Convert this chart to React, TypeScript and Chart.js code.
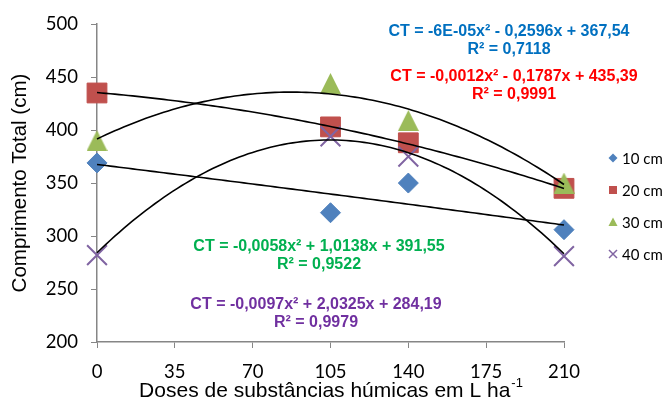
import React, { useEffect, useRef } from 'react';
import { Chart, registerables } from 'chart.js';

Chart.register(...registerables);

// ---- data ----
const doses = [0, 105, 140, 210];
const seriesLabels = ['10 cm', '20 cm', '30 cm', '40 cm'];
const s10 = [369, 322, 350, 306];
const s20 = [435, 403, 388, 345];
const s30 = [390, 444, 409, 350];
const s40 = [282, 394, 375, 281];
const xTickValues = [0, 35, 70, 105, 140, 175, 210];
const yTickValues = [200, 250, 300, 350, 400, 450, 500];
// trendline coefficients (a x^2 + b x + c), as printed on the chart
const coef10 = [-0.00006, -0.2596, 367.54];
const coef20 = [-0.0012, -0.1787, 435.39];
const coef30 = [-0.0058, 1.0138, 391.55];
const coef40 = [-0.0097, 2.0325, 284.19];
const eq10 = ['CT = -6E-05x² - 0,2596x + 367,54', 'R² = 0,7118'];
const eq20 = ['CT = -0,0012x² - 0,1787x + 435,39', 'R² = 0,9991'];
const eq30 = ['CT = -0,0058x² + 1,0138x + 391,55', 'R² = 0,9522'];
const eq40 = ['CT = -0,0097x² + 2,0325x + 284,19', 'R² = 0,9979'];
const yTitle = 'Comprimento Total (cm)';
const xTitle = 'Doses de substâncias húmicas em L ha';
const xTitleSup = '-1';

// ---- styles ----
const markerColors = ['#4F81BD', '#C0504D', '#9BBB59', '#8064A2'];
const markerRadii = [10, 14, 11, 14];
const eqColors = ['#0070C0', '#FF0000', '#00B050', '#7030A0'];
const eqPos = [
  [509, 32],
  [514, 77],
  [319, 247],
  [316, 305],
];
const AXIS = '#868686';

function trend(coef: number[]) {
  const pts: { x: number; y: number }[] = [];
  for (let i = 0; i <= 105; i++) {
    const x = (210 * i) / 105;
    pts.push({ x, y: coef[0] * x * x + coef[1] * x + coef[2] });
  }
  return pts;
}

function triangleImage(color: string, size: number) {
  const c = document.createElement('canvas');
  c.width = size;
  c.height = size;
  const g = c.getContext('2d')!;
  g.fillStyle = color;
  g.beginPath();
  g.moveTo(size / 2, 0);
  g.lineTo(size, size);
  g.lineTo(0, size);
  g.closePath();
  g.fill();
  return c;
}

const overlayPlugin = {
  id: 'overlay',
  afterDraw(chart: any) {
    const ctx = chart.ctx;
    const area = chart.chartArea;
    ctx.save();
    // equations
    const eqs = [eq10, eq20, eq30, eq40];
    ctx.font = 'bold 16px "Liberation Sans", Arial, sans-serif';
    ctx.textAlign = 'center';
    ctx.textBaseline = 'middle';
    eqs.forEach((lines, i) => {
      ctx.fillStyle = eqColors[i];
      lines.forEach((t, j) => ctx.fillText(t, eqPos[i][0], eqPos[i][1] + j * 17.5));
    });
    // y title
    ctx.fillStyle = '#000';
    ctx.font = '20.5px "Liberation Sans", Arial, sans-serif';
    ctx.save();
    ctx.translate(20, (area.top + area.bottom) / 2);
    ctx.rotate(-Math.PI / 2);
    ctx.textAlign = 'center';
    ctx.fillText(yTitle, 0, 0);
    ctx.restore();
    // x title with superscript
    ctx.font = '21px "Liberation Sans", Arial, sans-serif';
    const w1 = ctx.measureText(xTitle).width;
    ctx.font = '13px "Liberation Sans", Arial, sans-serif';
    const w2 = ctx.measureText(xTitleSup).width;
    const cx = (area.left + area.right) / 2;
    const x0 = cx - (w1 + w2) / 2;
    ctx.textAlign = 'left';
    ctx.font = '21px "Liberation Sans", Arial, sans-serif';
    ctx.fillText(xTitle, x0, 391);
    ctx.font = '13px "Liberation Sans", Arial, sans-serif';
    ctx.fillText(xTitleSup, x0 + w1 + 1, 383);
    // legend
    const ly = [158, 190, 222, 254];
    ctx.font = '15px Lato, "Open Sans", sans-serif';
    seriesLabels.forEach((lab, i) => {
      const mx = 613;
      const my = ly[i];
      ctx.fillStyle = markerColors[i];
      ctx.strokeStyle = markerColors[i];
      ctx.lineWidth = 1.5;
      ctx.beginPath();
      if (i === 0) {
        ctx.moveTo(mx - 4.5, my);
        ctx.lineTo(mx, my - 4.5);
        ctx.lineTo(mx + 4.5, my);
        ctx.lineTo(mx, my + 4.5);
        ctx.closePath();
        ctx.fill();
      } else if (i === 1) {
        ctx.rect(mx - 4, my - 4, 8, 8);
        ctx.fill();
      } else if (i === 2) {
        ctx.moveTo(mx, my - 4.5);
        ctx.lineTo(mx + 4.5, my + 4);
        ctx.lineTo(mx - 4.5, my + 4);
        ctx.closePath();
        ctx.fill();
      } else {
        ctx.moveTo(mx - 4, my - 4);
        ctx.lineTo(mx + 4, my + 4);
        ctx.moveTo(mx + 4, my - 4);
        ctx.lineTo(mx - 4, my + 4);
        ctx.stroke();
      }
      ctx.fillStyle = '#000';
      ctx.textAlign = 'left';
      ctx.textBaseline = 'middle';
      ctx.fillText(lab, 622, my + 1);
    });
    ctx.restore();
  },
};

export default function App() {
  const ref = useRef<HTMLCanvasElement | null>(null);
  useEffect(() => {
    if (!ref.current) return;
    const series = [s10, s20, s30, s40];
    const coefs = [coef10, coef20, coef30, coef40];
    const styles: any[] = ['rectRot', 'rect', triangleImage(markerColors[2], 21), 'crossRot'];
    const pointSets: any[] = series.map((vals, i) => ({
      type: 'scatter',
      label: seriesLabels[i],
      data: doses.map((d, k) => ({ x: d, y: vals[k] })),
      pointStyle: styles[i],
      pointRadius: markerRadii[i],
      pointHoverRadius: markerRadii[i],
      backgroundColor: markerColors[i],
      borderColor: markerColors[i],
      borderWidth: i === 3 ? 2 : 1,
      showLine: false,
      clip: false,
      order: 10 - i,
    }));
    const trendSets: any[] = coefs.map((c, i) => ({
      type: 'line',
      label: 'trend ' + seriesLabels[i],
      data: trend(c),
      borderColor: '#000',
      borderWidth: 1.6,
      pointRadius: 0,
      fill: false,
      tension: 0,
      clip: false,
      order: 0,
    }));
    const chart = new Chart(ref.current, {
      type: 'scatter',
      data: { datasets: [...pointSets, ...trendSets] },
      options: {
        responsive: false,
        animation: false,
        layout: { padding: { left: 0, top: 24, right: 99, bottom: 0 } },
        plugins: { legend: { display: false }, tooltip: { enabled: false } },
        scales: {
          x: {
            type: 'linear',
            min: 0,
            max: 210,
            afterBuildTicks: (s: any) => {
              s.ticks = xTickValues.map((v) => ({ value: v }));
            },
            afterFit: (s: any) => {
              s.height = 59;
            },
            grid: { display: true, drawOnChartArea: false, drawTicks: true, tickLength: 6, color: AXIS },
            border: { display: true, color: AXIS, width: 1.5 },
            ticks: { color: '#000', font: { family: 'Lato, "Open Sans", sans-serif', size: 18.5 }, padding: 13, maxRotation: 0 },
          },
          y: {
            type: 'linear',
            min: 200,
            max: 500,
            afterBuildTicks: (s: any) => {
              s.ticks = yTickValues.map((v) => ({ value: v }));
            },
            afterFit: (s: any) => {
              s.width = 97;
            },
            grid: { display: true, drawOnChartArea: false, drawTicks: true, tickLength: 6, color: AXIS },
            border: { display: true, color: AXIS, width: 1.5 },
            ticks: { color: '#000', font: { family: 'Lato, "Open Sans", sans-serif', size: 18.5 }, padding: 13 },
          },
        },
      },
      plugins: [overlayPlugin],
    } as any);
    return () => chart.destroy();
  }, []);
  return (
    <div style={{ position: 'fixed', left: 0, top: 0, width: 663, height: 401, background: '#fff' }}>
      <canvas ref={ref} width={663} height={401} style={{ display: 'block', width: 663, height: 401 }} />
    </div>
  );
}
